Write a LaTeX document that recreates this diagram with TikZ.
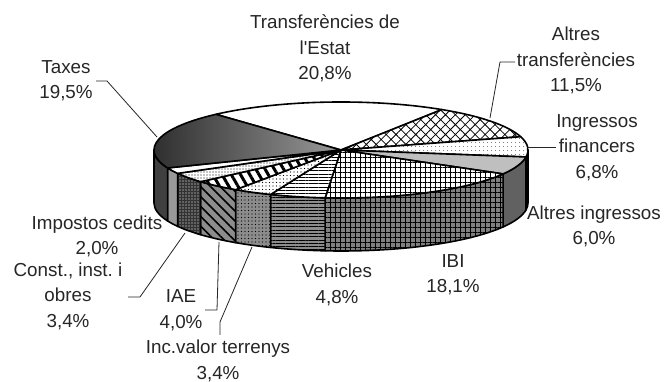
\documentclass[tikz,border=0pt]{standalone}
\usepackage{fontspec}
\setmainfont{Liberation Sans}
\usetikzlibrary{patterns.meta,calc}
\newcommand\pietop[3]{%
 \path[#3] (c) -- ($(c)+(#1:187pt and 48pt)$) arc[start angle=#1,end angle=#2,x radius=187pt,y radius=48pt] -- cycle;}
\newcommand\pieside[3]{%
 \path[#3] ($(c)+(#1:187pt and 48pt)$) arc[start angle=#1,end angle=#2,x radius=187pt,y radius=48pt] -- ++(0,-53pt) arc[start angle=#2,end angle=#1,x radius=187pt,y radius=48pt] -- cycle;}
\begin{document}
\begin{tikzpicture}[x=1pt,y=1pt,line join=round,
  lbl/.style={align=center,inner sep=0pt,font=\fontsize{18.8}{25.5}\selectfont\frenchspacing,text=black!85},
  leader/.style={draw=black!85,line width=0.8pt},
  edge/.style={draw=black,line width=1.6pt}]
\useasboundingbox (0,0) rectangle (665,382);
\fill[white] (0,0) rectangle (665,382);
\coordinate (c) at (341,232);
% side walls
\pieside{0}{-8.35}{edge,fill=black!60}
\pieside{-8.35}{-29.89}{edge,fill=black!62}
\pieside{-29.89}{-94.86}{edge,preaction={fill=black!50},pattern={Hatch[angle=0,distance=5pt,line width=0.9pt]}}
\pieside{-94.86}{-112.09}{edge,preaction={fill=black!45},pattern={Lines[angle=0,distance=3.3pt,line width=1pt]}}
\pieside{-112.09}{-124.29}{edge,preaction={fill=black!45},pattern={Dots[distance=3.5pt,radius=0.7pt]}}
\pieside{-124.29}{-138.65}{edge,preaction={fill=black!45},pattern={Lines[angle=-45,distance=7pt,line width=1.6pt]}}
\pieside{-138.65}{-150.85}{edge,preaction={fill=black!80},pattern={Dots[distance=3pt,radius=0.6pt]},pattern color=white}
\pieside{-150.85}{-158.03}{edge,fill=black!40}
\pieside{-158.03}{-180}{edge,fill=black!75}
% top faces
\pietop{132}{57.34}{edge,fill=white}
\pietop{57.34}{16.06}{edge,preaction={fill=white},pattern={Hatch[angle=45,distance=7pt,line width=0.8pt]}}
\pietop{16.06}{-8.35}{edge,preaction={fill=white},pattern={Dots[distance=4pt,radius=0.5pt]}}
\pietop{-8.35}{-29.89}{edge,fill=black!25}
\pietop{-29.89}{-94.86}{edge,preaction={fill=white},pattern={Hatch[angle=0,distance=5pt,line width=0.9pt]}}
\pietop{-94.86}{-112.09}{edge,preaction={fill=white},pattern={Lines[angle=0,distance=3.3pt,line width=1pt]}}
\pietop{-112.09}{-124.29}{edge,preaction={fill=white},pattern={Dots[distance=3.5pt,radius=0.7pt]}}
\pietop{-124.29}{-138.65}{edge,preaction={fill=white},pattern={Lines[angle=-60,distance=8pt,line width=3pt]}}
\pietop{-138.65}{-150.85}{edge,preaction={fill=white},pattern={Dots[distance=3pt,radius=0.7pt]}}
\pietop{-150.85}{-158.03}{edge,fill=white}
\pietop{132}{201.97}{edge,left color=black!85,right color=black!40}
% labels
\node[lbl] (ltransf) at (325,333.5) {Transferències de\\l\textquotesingle Estat\\20,8\%};
\node[lbl] (ltaxes) at (66,301.5) {Taxes\\19,5\%};
\node[lbl] (laltt) at (576,321.3) {Altres\\transferències\\11,5\%};
\node[lbl] (lingf) at (597,234.3) {Ingressos\\financers\\6,8\%};
\node[lbl] (lalti) at (594,155.5) {Altres ingressos\\6,0\%};
\node[lbl] (libi) at (453,107.5) {IBI\\18,1\%};
\node[lbl] (lveh) at (337,97) {Vehicles\\4,8\%};
\node[lbl] (liae) at (181,72) {IAE\\4,0\%};
\node[lbl] (linc) at (218,21) {Inc.valor terrenys\\3,4\%};
\node[lbl] (lconst) at (68,85.7) {Const., inst. i\\obres\\3,4\%};
\node[lbl] (limp) at (97,145.5) {Impostos cedits\\2,0\%};
% leaders
\coordinate (ptaxes) at (157,245);
\coordinate (paltt) at (490,264);
\coordinate (pingf) at (528,235);
\coordinate (piae) at (219,140);
\coordinate (pinc) at (252,135);
\coordinate (pconst) at (185,149);
\draw[leader] (96,301) -- (107,301) -- (ptaxes);
\draw[leader] (515,320) -- (500,320) -- (paltt);
\draw[leader] (pingf) -- (556,235);
\draw[leader] (205,72) -- (217,72) -- (piae);
\draw[leader] (220,47) -- (220,60) -- (pinc);
\draw[leader] (128,85) -- (140,85) -- (pconst);
\end{tikzpicture}
\end{document}
